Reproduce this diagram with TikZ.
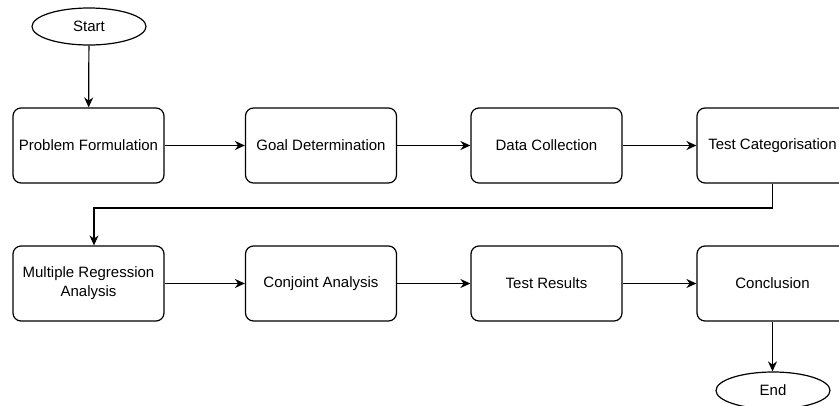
\documentclass[tikz,border=0pt]{standalone}
\usepackage{fontspec}
\setmainfont{Liberation Sans}
\usetikzlibrary{shapes.geometric,arrows.meta}
\begin{document}
\begin{tikzpicture}[x=1pt,y=-1pt,
  box/.style={draw, line width=1.2pt, rounded corners=8pt, minimum width=151pt, minimum height=75pt, align=center, font=\fontsize{15}{19}\selectfont, inner sep=0pt},
  term/.style={draw, ellipse, line width=1.2pt, minimum width=114pt, minimum height=37pt, inner sep=0pt, font=\fontsize{15}{19}\selectfont},
  conn/.style={line width=1.2pt, -{Stealth[length=10pt,width=9pt]}}]
\useasboundingbox (0,0) rectangle (839,405);
\begin{scope}
\clip (0,0) rectangle (839,405);
\node[term] (start) at (89,26.5) {Start};
\node[box] (pf) at (88.5,145.5) {Problem Formulation};
\node[box] (gd) at (321,145.5) {Goal Determination};
\node[box] (dc) at (546.5,145.5) {Data Collection};
\node[box] (tc) at (772.5,145.5) {Test Categorisation};
\node[box] (mra) at (88.5,283.5) {Multiple Regression\\Analysis};
\node[box] (ca) at (321,283.5) {Conjoint Analysis};
\node[box] (tr) at (546.5,283.5) {Test Results};
\node[box] (con) at (772.5,283.5) {Conclusion};
\node[term] (end) at (773,390.5) {End};
\coordinate (k1) at (772.5,208);
\coordinate (k2) at (94,208);
\draw[conn] (start) -- (pf);
\draw[conn] (pf) -- (gd);
\draw[conn] (gd) -- (dc);
\draw[conn] (dc) -- (tc);
\draw[conn] (tc.south) -- (k1) -- (k2) -- (k2 |- mra.north);
\draw[conn] (mra) -- (ca);
\draw[conn] (ca) -- (tr);
\draw[conn] (tr) -- (con);
\draw[conn] (con.south) -- (con.south |- end.north);
\end{scope}
\end{tikzpicture}
\end{document}
